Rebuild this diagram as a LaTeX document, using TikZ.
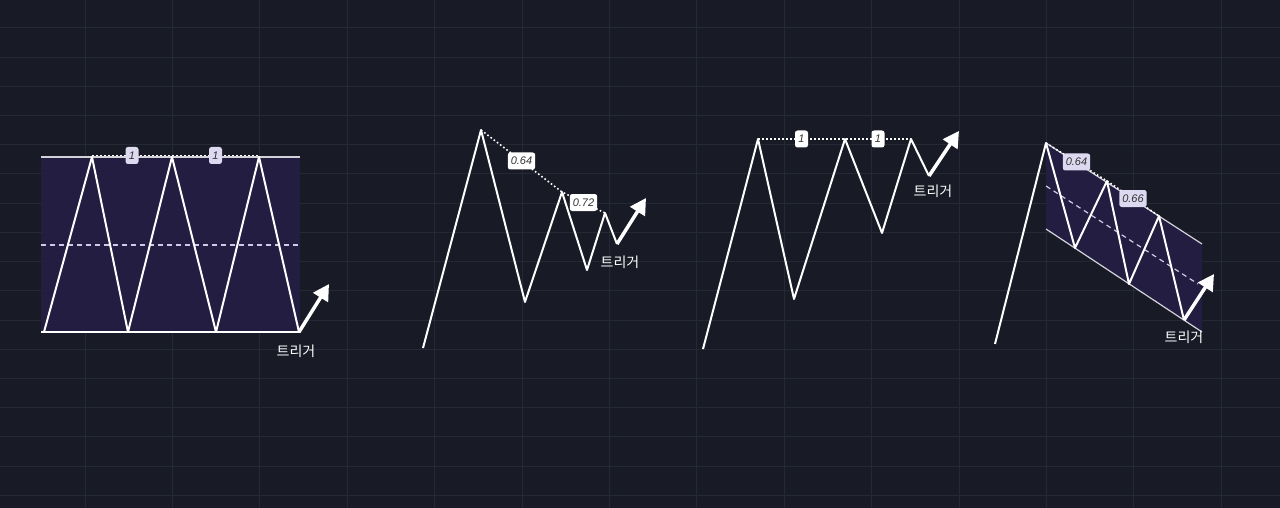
\documentclass[tikz,border=0pt]{standalone}
\usepackage{fontspec}
\setmainfont{Liberation Sans}
\newfontfamily\kofont{Noto Sans CJK KR}
\usetikzlibrary{arrows.meta}

\definecolor{bgnavy}{HTML}{181B26}
\definecolor{gridline}{HTML}{252835}
\definecolor{boxpurple}{HTML}{241E44}
\definecolor{lavender}{HTML}{DDD9F0}
\definecolor{midlav}{HTML}{CFCBE6}

\tikzset{
  zig/.style={white, line width=2pt, line join=round},
  edgeline/.style={white!80!boxpurple, line width=1.2pt},
  dots/.style={white, line width=1.6pt, dash pattern=on 1.6pt off 2.4pt},
  midline/.style={midlav, line width=1.2pt, dash pattern=on 5pt off 4pt},
  lbl/.style={fill=white, rounded corners=2.5pt, inner xsep=3pt, inner ysep=0pt,
    minimum height=17pt, text=black!80, font=\fontsize{11}{11}\selectfont\itshape},
  lblone/.style={lbl, minimum width=13pt, inner xsep=1pt},
  trig/.style={text=white, font=\kofont\fontsize{14}{14}\selectfont},
  bigarrow/.style={white, line width=3.5pt, -{Triangle[length=16pt, width=17pt]}},
}

\begin{document}
\begin{tikzpicture}[x=1pt, y=-1pt]
% Fondo
\fill[bgnavy] (0,0) rectangle (1280,508);
\useasboundingbox (0,0) rectangle (1280,508);
\foreach \k in {0,...,13}
  \draw[gridline, line width=1pt] (85+87.4*\k,0) -- (85+87.4*\k,508);
\foreach \k in {0,...,16}
  \draw[gridline, line width=1pt] (0,28+29.2*\k) -- (1280,28+29.2*\k);

% Rectángulo
\coordinate (r1) at (41,157);
\coordinate (r2) at (300,332);
\fill[boxpurple, fill opacity=0.9] (r1) rectangle (r2);
\draw[edgeline] (41,157) -- (300,157);
\draw[white, line width=1.6pt] (41,332) -- (300,332);
\draw[midline] (41,245) -- (300,245);
\coordinate (a0) at (44,332);
\coordinate (a1) at (92,157);
\coordinate (a2) at (128,332);
\coordinate (a3) at (172,157);
\coordinate (a4) at (216,332);
\coordinate (a5) at (259,157);
\coordinate (a6) at (299,332);
\coordinate (ah) at (329,284);
\draw[zig] (a0) -- (a1) -- (a2) -- (a3) -- (a4) -- (a5) -- (a6);
\draw[dots] ([yshift=1.5pt]a1) -- node[lblone, fill=lavender] (la1) {1}
  ([yshift=1.5pt]a3) -- node[lblone, fill=lavender] (la2) {1} ([yshift=1.5pt]a5);
\draw[bigarrow] (a6) -- (ah);
\node[trig] (ka) at (296,351) {트리거};

% Cuña descendente
\coordinate (b0) at (423,348);
\coordinate (b1) at (481,130);
\coordinate (b2) at (525,302);
\coordinate (b3) at (562,192);
\coordinate (b4) at (587,270);
\coordinate (b5) at (605,213);
\coordinate (b6) at (617,244);
\coordinate (bh) at (646,198);
\draw[zig] (b0) -- (b1) -- (b2) -- (b3) -- (b4) -- (b5) -- (b6);
\draw[dots] (b1) -- node[lbl] (lb1) {0.64} (b3) -- node[lbl] (lb2) {0.72} (b5);
\draw[bigarrow] (b6) -- (bh);
\node[trig] (kb) at (620,262) {트리거};

% Techo plano
\coordinate (c0) at (703,349);
\coordinate (c1) at (758,139);
\coordinate (c2) at (794,299);
\coordinate (c3) at (845,139);
\coordinate (c4) at (882,233);
\coordinate (c5) at (911,139);
\coordinate (c6) at (929,176);
\coordinate (ch) at (959,131);
\draw[zig] (c0) -- (c1) -- (c2) -- (c3) -- (c4) -- (c5) -- (c6);
\draw[dots] (c1) -- node[lblone] (lc1) {1} (c3) -- node[lblone] (lc2) {1} (c5);
\draw[bigarrow] (c6) -- (ch);
\node[trig] (kc) at (933,191) {트리거};

% Canal bajista
\coordinate (u1) at (1046,143);
\coordinate (u2) at (1202,244);
\coordinate (w1) at (1046,229);
\coordinate (w2) at (1202,332);
\fill[boxpurple, fill opacity=0.9] (u1) -- (u2) -- (w2) -- (w1) -- cycle;
\draw[edgeline] (u1) -- (u2);
\draw[edgeline] (w1) -- (w2);
\draw[midline] (1046,186) -- (1198,284);
\coordinate (d0) at (995,344);
\coordinate (d1) at (1046,143);
\coordinate (d2) at (1075,248);
\coordinate (d3) at (1107,181);
\coordinate (d4) at (1129,284);
\coordinate (d5) at (1159,216);
\coordinate (d6) at (1184,320);
\coordinate (dh) at (1214,274);
\draw[zig] (d0) -- (d1) -- (d2) -- (d3) -- (d4) -- (d5) -- (d6);
\draw[dots] (d1) -- node[lbl, fill=lavender] (ld1) {0.64} (d3)
  -- node[lbl, fill=lavender] (ld2) {0.66} (d5);
\draw[bigarrow] (d6) -- (dh);
\node[trig] (kd) at (1184,337) {트리거};
\end{tikzpicture}
\end{document}
